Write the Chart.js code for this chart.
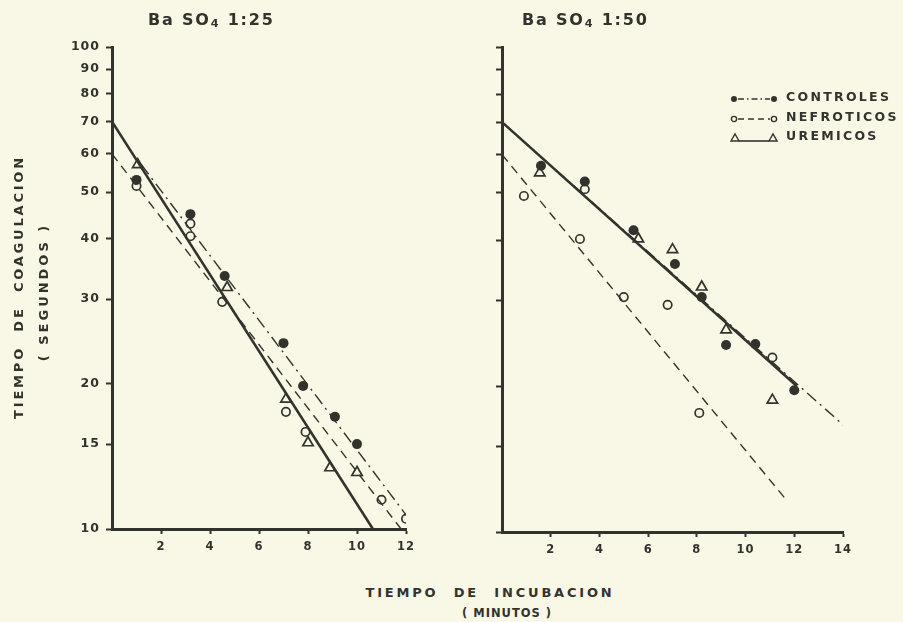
<!DOCTYPE html>
<html>
<head>
<meta charset="utf-8">
<script src="https://cdn.jsdelivr.net/npm/chart.js@4.4.1/dist/chart.umd.min.js"></script>
<style>
  body { margin: 0; background: #f9f7e5; }
  #hoja { position: relative; width: 903px; height: 622px; overflow: hidden; font-family: "DejaVu Sans", sans-serif; font-weight: bold; color: #33332e; }
  canvas { position: absolute; top: 0; }
  .txt { position: absolute; white-space: nowrap; }
  .rot { transform: translate(-50%, -50%) rotate(-90deg); }
  .cen { transform: translate(-50%, -50%); }
  sub { font-size: 70%; vertical-align: -2px; }
  .ley { position: absolute; left: 730px; height: 14px; }
  .ley span { position: absolute; left: 56px; top: -2px; font-size: 12.5px; letter-spacing: 2.3px; }
</style>
</head>
<body>
<div id="hoja">
  <canvas id="baso25" width="440" height="560" style="left:0"></canvas>
  <canvas id="baso50" width="443" height="562" style="left:460px"></canvas>

  <div class="txt" style="left:148px;top:10px;font-size:16px;letter-spacing:1.8px">Ba SO<sub>4</sub> 1:25</div>
  <div class="txt" style="left:522px;top:10px;font-size:16px;letter-spacing:1.8px">Ba SO<sub>4</sub> 1:50</div>

  <div class="txt rot" style="left:18px;top:287px;font-size:13px;letter-spacing:2.8px;word-spacing:7px">TIEMPO DE COAGULACION</div>
  <div class="txt rot" style="left:43px;top:292px;font-size:13px;letter-spacing:3px">( SEGUNDOS )</div>

  <div class="txt cen" style="left:490px;top:592px;font-size:13px;letter-spacing:2.8px;word-spacing:8px">TIEMPO DE INCUBACION</div>
  <div class="txt cen" style="left:507px;top:613px;font-size:11.5px;letter-spacing:1px">( MINUTOS )</div>

  <div class="ley" style="top:91px">
    <svg width="48" height="14"><circle cx="4" cy="7" r="3" fill="#33332e"/><line x1="8" y1="7" x2="40" y2="7" stroke="#33332e" stroke-width="1.4" stroke-dasharray="6 3 1.5 3"/><circle cx="44" cy="7" r="3" fill="#33332e"/></svg>
    <span>CONTROLES</span>
  </div>
  <div class="ley" style="top:111px">
    <svg width="48" height="14"><circle cx="4" cy="7" r="2.6" fill="none" stroke="#33332e" stroke-width="1.4"/><line x1="8" y1="7" x2="40" y2="7" stroke="#33332e" stroke-width="1.4" stroke-dasharray="6 4"/><circle cx="44" cy="7" r="2.6" fill="none" stroke="#33332e" stroke-width="1.4"/></svg>
    <span>NEFROTICOS</span>
  </div>
  <div class="ley" style="top:130px">
    <svg width="48" height="14"><path d="M1 10 L5 3 L9 10 Z" fill="none" stroke="#33332e" stroke-width="1.4"/><line x1="9" y1="10" x2="39" y2="10" stroke="#33332e" stroke-width="1.6"/><path d="M39 10 L43 3 L47 10 Z" fill="none" stroke="#33332e" stroke-width="1.4"/></svg>
    <span>UREMICOS</span>
  </div>
</div>

<script>
// Ejes
const yTicks = [10, 15, 20, 30, 40, 50, 60, 70, 80, 90, 100];
const xTicks25 = [2, 4, 6, 8, 10, 12];
const xTicks50 = [2, 4, 6, 8, 10, 12, 14];

// BaSO4 1:25 - puntos
const controles25X = [1.0, 3.2, 4.6, 7.0, 7.8, 9.1, 10.0];
const controles25Y = [53, 45, 33.5, 24.3, 19.8, 17.1, 15.0];
const nefroticos25X = [1.0, 3.2, 3.2, 4.5, 7.1, 7.9, 11.0, 12.0];
const nefroticos25Y = [51.5, 43, 40.5, 29.6, 17.5, 15.9, 11.5, 10.5];
const uremicos25X = [1.05, 4.7, 7.1, 8.0, 8.9, 10.0];
const uremicos25Y = [57, 31.7, 18.6, 15.1, 13.4, 13.1];

// BaSO4 1:25 - rectas
const recta25ControlesX = [1.2, 12];
const recta25ControlesY = [57, 10.7];
const recta25NefroticosX = [0, 11.8];
const recta25NefroticosY = [60, 10];
const recta25UremicosX = [0, 10.65];
const recta25UremicosY = [70, 10];

// BaSO4 1:50 - puntos
const controles50X = [1.6, 3.4, 5.4, 7.1, 8.2, 9.2, 10.4, 12.0];
const controles50Y = [56.9, 52.8, 41.9, 35.7, 30.5, 24.3, 24.4, 19.6];
const nefroticos50X = [0.9, 3.4, 3.2, 5.0, 6.8, 8.1, 11.1];
const nefroticos50Y = [49.3, 50.9, 40.2, 30.5, 29.4, 17.6, 22.9];
const uremicos50X = [1.55, 5.6, 7.0, 8.2, 9.2, 11.1];
const uremicos50Y = [55, 40.2, 38.2, 32, 26.1, 18.7];

// BaSO4 1:50 - rectas
const recta50ControlesX = [0, 14.2];
const recta50ControlesY = [70, 16.3];
const recta50NefroticosX = [0, 11.7];
const recta50NefroticosY = [60, 11.6];
const recta50UremicosX = [0, 12.1];
const recta50UremicosY = [70, 20];

const ink = '#33332e';
const fuente = { family: 'DejaVu Sans', weight: 'bold' };

function puntos(xs, ys) {
  return xs.map((x, i) => ({ x: x, y: ys[i] }));
}

function series(c, n, u, rc, rn, ru) {
  return [
    { data: c, pointStyle: 'circle', pointRadius: 5, backgroundColor: ink, borderWidth: 0 },
    { data: n, pointStyle: 'circle', pointRadius: 4.2, backgroundColor: 'rgba(0,0,0,0)', borderColor: ink, borderWidth: 1.7 },
    { data: u, pointStyle: 'triangle', pointRadius: 6, backgroundColor: 'rgba(0,0,0,0)', borderColor: ink, borderWidth: 1.7 },
    { data: rc, showLine: true, pointRadius: 0, borderColor: ink, borderWidth: 1.4, borderDash: [12, 5, 2, 5] },
    { data: rn, showLine: true, pointRadius: 0, borderColor: ink, borderWidth: 1.4, borderDash: [9, 6] },
    { data: ru, showLine: true, pointRadius: 0, borderColor: ink, borderWidth: 2.6 }
  ];
}

// tracking algo ancho como en el rotulado original
const espaciado = { id: 'espaciado', beforeDraw: c => { c.ctx.letterSpacing = '1px'; } };

function panel(id, datos, xMax, xTicks, etiquetasY, anchoY, padDer, altoX) {
  new Chart(document.getElementById(id), {
    type: 'scatter',
    data: { datasets: datos },
    options: {
      responsive: false,
      animation: false,
      layout: { padding: { top: 47, right: padDer, bottom: 0, left: 0 } },
      plugins: { legend: { display: false }, tooltip: { enabled: false } },
      scales: {
        x: {
          type: 'linear', min: 0, max: xMax,
          afterBuildTicks: s => { s.ticks = xTicks.map(v => ({ value: v })); },
          afterFit: s => { s.height = altoX; },
          grid: { drawOnChartArea: false, tickLength: 5, tickColor: ink, tickWidth: 2 },
          border: { color: ink, width: 3 },
          ticks: { color: ink, padding: 6, maxRotation: 0, font: { ...fuente, size: 11.5 } }
        },
        y: {
          type: 'logarithmic', min: 10, max: 100,
          afterBuildTicks: s => { s.ticks = yTicks.map(v => ({ value: v })); },
          afterFit: s => { s.width = anchoY; },
          grid: { drawOnChartArea: false, tickLength: 6, tickColor: ink, tickWidth: 2 },
          border: { color: ink, width: 3 },
          ticks: { color: ink, padding: 6, font: { ...fuente, size: 12.5 }, callback: v => etiquetasY ? String(v) : '' }
        }
      }
    },
    plugins: [espaciado]
  });
}

panel('baso25', series(
  puntos(controles25X, controles25Y),
  puntos(nefroticos25X, nefroticos25Y),
  puntos(uremicos25X, uremicos25Y),
  puntos(recta25ControlesX, recta25ControlesY),
  puntos(recta25NefroticosX, recta25NefroticosY),
  puntos(recta25UremicosX, recta25UremicosY)
), 12, xTicks25, true, 112, 34, 31);

panel('baso50', series(
  puntos(controles50X, controles50Y),
  puntos(nefroticos50X, nefroticos50Y),
  puntos(uremicos50X, uremicos50Y),
  puntos(recta50ControlesX, recta50ControlesY),
  puntos(recta50NefroticosX, recta50NefroticosY),
  puntos(recta50UremicosX, recta50UremicosY)
), 14, xTicks50, false, 42, 60, 30);
</script>
</body>
</html>
